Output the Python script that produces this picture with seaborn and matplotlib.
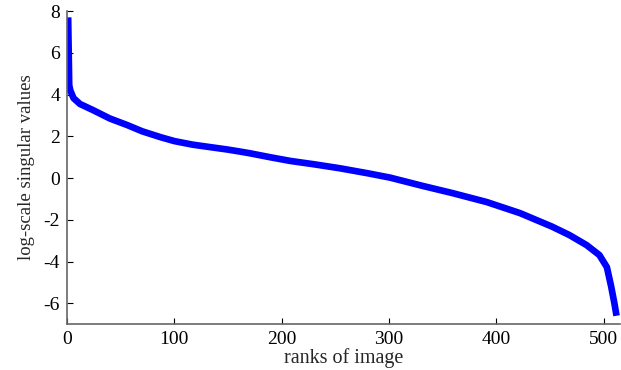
import matplotlib
matplotlib.use("Agg")
import matplotlib.pyplot as plt
import seaborn as sns
import pandas as pd

ranks = [1, 2, 3, 6, 12, 24, 40, 56, 70, 87, 100, 117, 135, 149, 161, 170,
         190, 208, 230, 254, 280, 301, 330, 359, 391, 422, 452, 468, 484, 496,
         503, 507, 510, 512]
log_sv = [7.7, 4.45, 4.2, 3.83, 3.55, 3.26, 2.85, 2.54, 2.24, 1.96, 1.77,
          1.6, 1.47, 1.37, 1.27, 1.19, 0.99, 0.82, 0.66, 0.47, 0.23, 0.02,
          -0.36, -0.72, -1.15, -1.68, -2.33, -2.73, -3.21, -3.69, -4.27,
          -5.2, -6.0, -6.6]
xticks = [0, 100, 200, 300, 400, 500]
yticks = [-6, -4, -2, 0, 2, 4, 6, 8]

df = pd.DataFrame({"rank": ranks, "val": log_sv})

sns.set_style("white")
plt.rcParams["font.family"] = ["Liberation Serif", "DejaVu Serif"]

fig = plt.figure(figsize=(6.21, 3.70), dpi=100)
ax = fig.add_axes([0.108, 0.124, 0.890, 0.846])
sns.lineplot(data=df, x="rank", y="val", ax=ax, color="#0000ff",
             linewidth=4.8, solid_capstyle="butt", solid_joinstyle="round")
ax.set_xlim(0, 515)
ax.set_ylim(-7, 8)
ax.set_xticks(xticks)
ax.set_yticks(yticks)
ax.set_xticklabels([str(t) for t in xticks])
ax.set_yticklabels([str(t) for t in yticks])
ax.tick_params(direction="in", length=4, width=0.8, colors="black",
               labelsize=14, left=True, bottom=True, pad=5)
for s in ["top", "right"]:
    ax.spines[s].set_visible(False)
for s in ["left", "bottom"]:
    ax.spines[s].set_color("#666666")
    ax.spines[s].set_linewidth(1.2)
ax.set_xlabel("ranks of image", fontsize=14.5, labelpad=0)
ax.set_ylabel("log-scale singular values", fontsize=13.5, labelpad=6)
fig.savefig("out.png", dpi=100)
